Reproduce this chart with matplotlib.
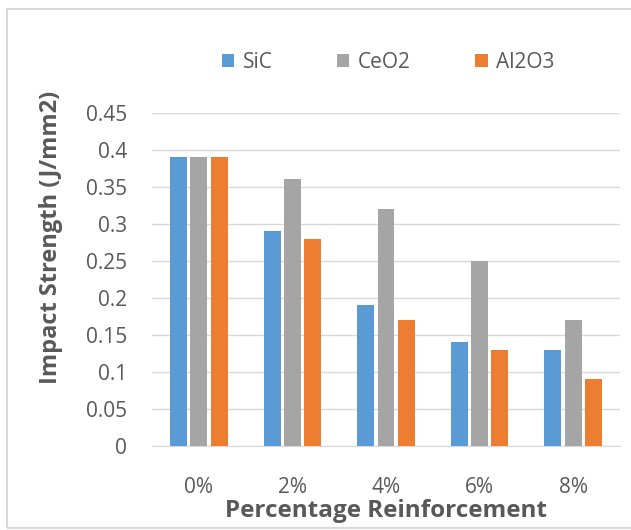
# 衝撃強さの棒グラフ

import matplotlib
matplotlib.use('Agg')
import matplotlib.pyplot as plt
import numpy as np
from matplotlib.patches import Rectangle

categories = ['0%', '2%', '4%', '6%', '8%']
sic = [0.39, 0.29, 0.19, 0.14, 0.13]
ceo2 = [0.39, 0.36, 0.32, 0.25, 0.17]
al2o3 = [0.39, 0.28, 0.17, 0.13, 0.09]
yticks = [0, 0.05, 0.1, 0.15, 0.2, 0.25, 0.3, 0.35, 0.4, 0.45]
ytick_labels = ['0', '0.05', '0.1', '0.15', '0.2', '0.25', '0.3', '0.35', '0.4', '0.45']

plt.rcParams['font.family'] = ['Open Sans', 'DejaVu Sans']
text_color = '#595959'

fig = plt.figure(figsize=(6.31, 5.30), dpi=100)
ax = fig.add_axes([152 / 631, 1 - 446 / 530, 468 / 631, 333.4 / 530])

x = np.arange(len(categories))
width = 0.18
step = 0.217
ax.bar(x - step, sic, width, color='#5B9BD5', label='SiC', zorder=3)
ax.bar(x, ceo2, width, color='#A5A5A5', label='CeO2', zorder=3)
ax.bar(x + step, al2o3, width, color='#ED7D31', label='Al2O3', zorder=3)

ax.set_xlim(-0.5, len(categories) - 0.5)
ax.set_ylim(0, 0.45)
ax.set_yticks(yticks)
ax.set_yticklabels(ytick_labels)
ax.set_xticks(x)
ax.set_xticklabels(categories)
ax.yaxis.grid(True, color='#D9D9D9', linewidth=1, zorder=0)
ax.tick_params(axis='both', length=0, labelsize=15, labelcolor=text_color)
ax.tick_params(axis='y', pad=18)
ax.tick_params(axis='x', pad=22)
for side in ['top', 'right', 'left']:
    ax.spines[side].set_visible(False)
ax.spines['bottom'].set_color('#D9D9D9')

ax.set_xlabel('Percentage Reinforcement', fontsize=17.5, fontweight='bold',
              color=text_color, labelpad=1)
ax.set_ylabel('Impact Strength (J/mm2)', fontsize=17, fontweight='bold',
              color=text_color)
ax.yaxis.set_label_coords(-0.19, 0.627)

fig.legend(loc='center', bbox_to_anchor=(0.615, 1 - 62 / 530), ncol=3,
           frameon=False, fontsize=15, labelcolor=text_color,
           handlelength=0.6, handleheight=0.6, handletextpad=0.4,
           columnspacing=3.1)

# 外枠
fig.patches.append(Rectangle((7 / 631, 1 - 528 / 530), 1.0, 519 / 530,
                             transform=fig.transFigure, fill=False,
                             edgecolor='#D9D9D9', linewidth=1.5))

fig.savefig('out.png', dpi=100)
